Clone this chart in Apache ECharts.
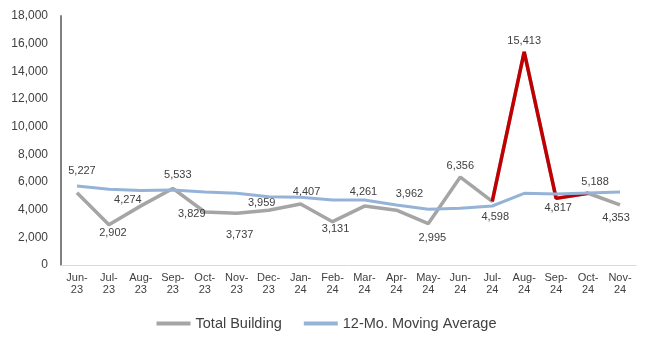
<!DOCTYPE html>
<html>
<head>
<meta charset="utf-8">
<script src="https://cdn.jsdelivr.net/npm/echarts@6/dist/echarts.min.js"></script>
<style>
  html, body { margin: 0; padding: 0; background: #ffffff; }
  #chart { width: 653px; height: 341px; }
</style>
</head>
<body>
<div id="chart"></div>
<script>
// Monthly building totals and their 12-month moving average
var months = ['Jun-23', 'Jul-23', 'Aug-23', 'Sep-23', 'Oct-23', 'Nov-23', 'Dec-23', 'Jan-24', 'Feb-24',
              'Mar-24', 'Apr-24', 'May-24', 'Jun-24', 'Jul-24', 'Aug-24', 'Sep-24', 'Oct-24', 'Nov-24'];
var totalBuilding = [5227, 2902, 4274, 5533, 3829, 3737, 3959, 4407, 3131,
                     4261, 3962, 2995, 6356, 4598, 15413, 4817, 5188, 4353];
var movingAverage = [5710, 5470, 5380, 5420, 5280, 5180, 4940, 4890, 4700,
                     4700, 4340, 4030, 4100, 4265, 5180, 5130, 5200, 5280];
var yTicks = [0, 2000, 4000, 6000, 8000, 10000, 12000, 14000, 16000, 18000];

// Months whose segment is highlighted in red (Jul-24 through Oct-24)
var highlightFrom = 'Jul-24';
var highlightTo = 'Oct-24';

// Label placement relative to each point, in pixels [dx, dy]
var labelOffsets = [
  [5, -22], [4, 8], [-13, -6], [5, -13], [-13, 2], [3, 22], [-7, -7], [6, -12], [3, 7],
  [-1, -14], [13, -16], [4, 14], [0, -11], [3, 16], [0, -11], [2, 10], [7, -11], [-4, 13]
];

function fmt(v) {
  return String(v).replace(/\B(?=(\d{3})+(?!\d))/g, ',');
}

var i0 = months.indexOf(highlightFrom);
var i1 = months.indexOf(highlightTo);
var highlighted = totalBuilding.map(function (v, i) { return (i >= i0 && i <= i1) ? v : null; });

var FONT = 'Liberation Sans, Arial, sans-serif';

var chart = echarts.init(document.getElementById('chart'), null, { renderer: 'canvas' });
chart.setOption({
  animation: false,
  backgroundColor: '#ffffff',
  grid: { left: 61, right: 17, top: 16, bottom: 76, containLabel: false },
  legend: {
    data: ['Total Building', '12-Mo. Moving Average'],
    bottom: 5,
    left: 'center',
    icon: 'rect',
    itemWidth: 34,
    itemHeight: 4,
    itemGap: 22,
    textStyle: { fontFamily: FONT, fontSize: 14.5, color: '#404040' }
  },
  xAxis: {
    type: 'category',
    data: months,
    boundaryGap: true,
    axisLine: { show: true, lineStyle: { color: '#D9D9D9', width: 1 } },
    axisTick: { show: false },
    axisLabel: {
      interval: 0,
      margin: 7,
      fontFamily: FONT,
      fontSize: 11,
      lineHeight: 12,
      color: '#404040',
      formatter: function (v) { return v.replace('-', '-\n'); }
    },
    splitLine: { show: false }
  },
  yAxis: {
    type: 'value',
    min: yTicks[0],
    max: yTicks[yTicks.length - 1],
    interval: yTicks[1] - yTicks[0],
    axisLine: { show: true, lineStyle: { color: '#808080', width: 2 } },
    axisTick: { show: false },
    splitLine: { show: false },
    axisLabel: {
      margin: 13,
      fontFamily: FONT,
      fontSize: 12,
      color: '#404040',
      formatter: function (v) { return fmt(v); }
    }
  },
  series: [
    {
      name: 'Total Building',
      type: 'line',
      color: '#A5A5A5',
      symbol: 'circle',
      symbolSize: 0,
      lineStyle: { color: '#A5A5A5', width: 3.5 },
      z: 2,
      data: totalBuilding.map(function (v, i) {
        return {
          value: v,
          label: {
            show: true,
            position: 'inside',
            offset: labelOffsets[i],
            formatter: function (p) { return fmt(p.value); },
            fontFamily: FONT,
            fontSize: 11,
            color: '#404040'
          }
        };
      })
    },
    {
      name: 'Total Building (Jul-Oct 24)',
      type: 'line',
      color: '#C00000',
      symbol: 'none',
      lineStyle: { color: '#C00000', width: 3.5 },
      z: 3,
      data: highlighted
    },
    {
      name: '12-Mo. Moving Average',
      type: 'line',
      color: '#95B3D7',
      symbol: 'none',
      lineStyle: { color: '#95B3D7', width: 3 },
      z: 4,
      data: movingAverage
    }
  ]
});
</script>
</body>
</html>
